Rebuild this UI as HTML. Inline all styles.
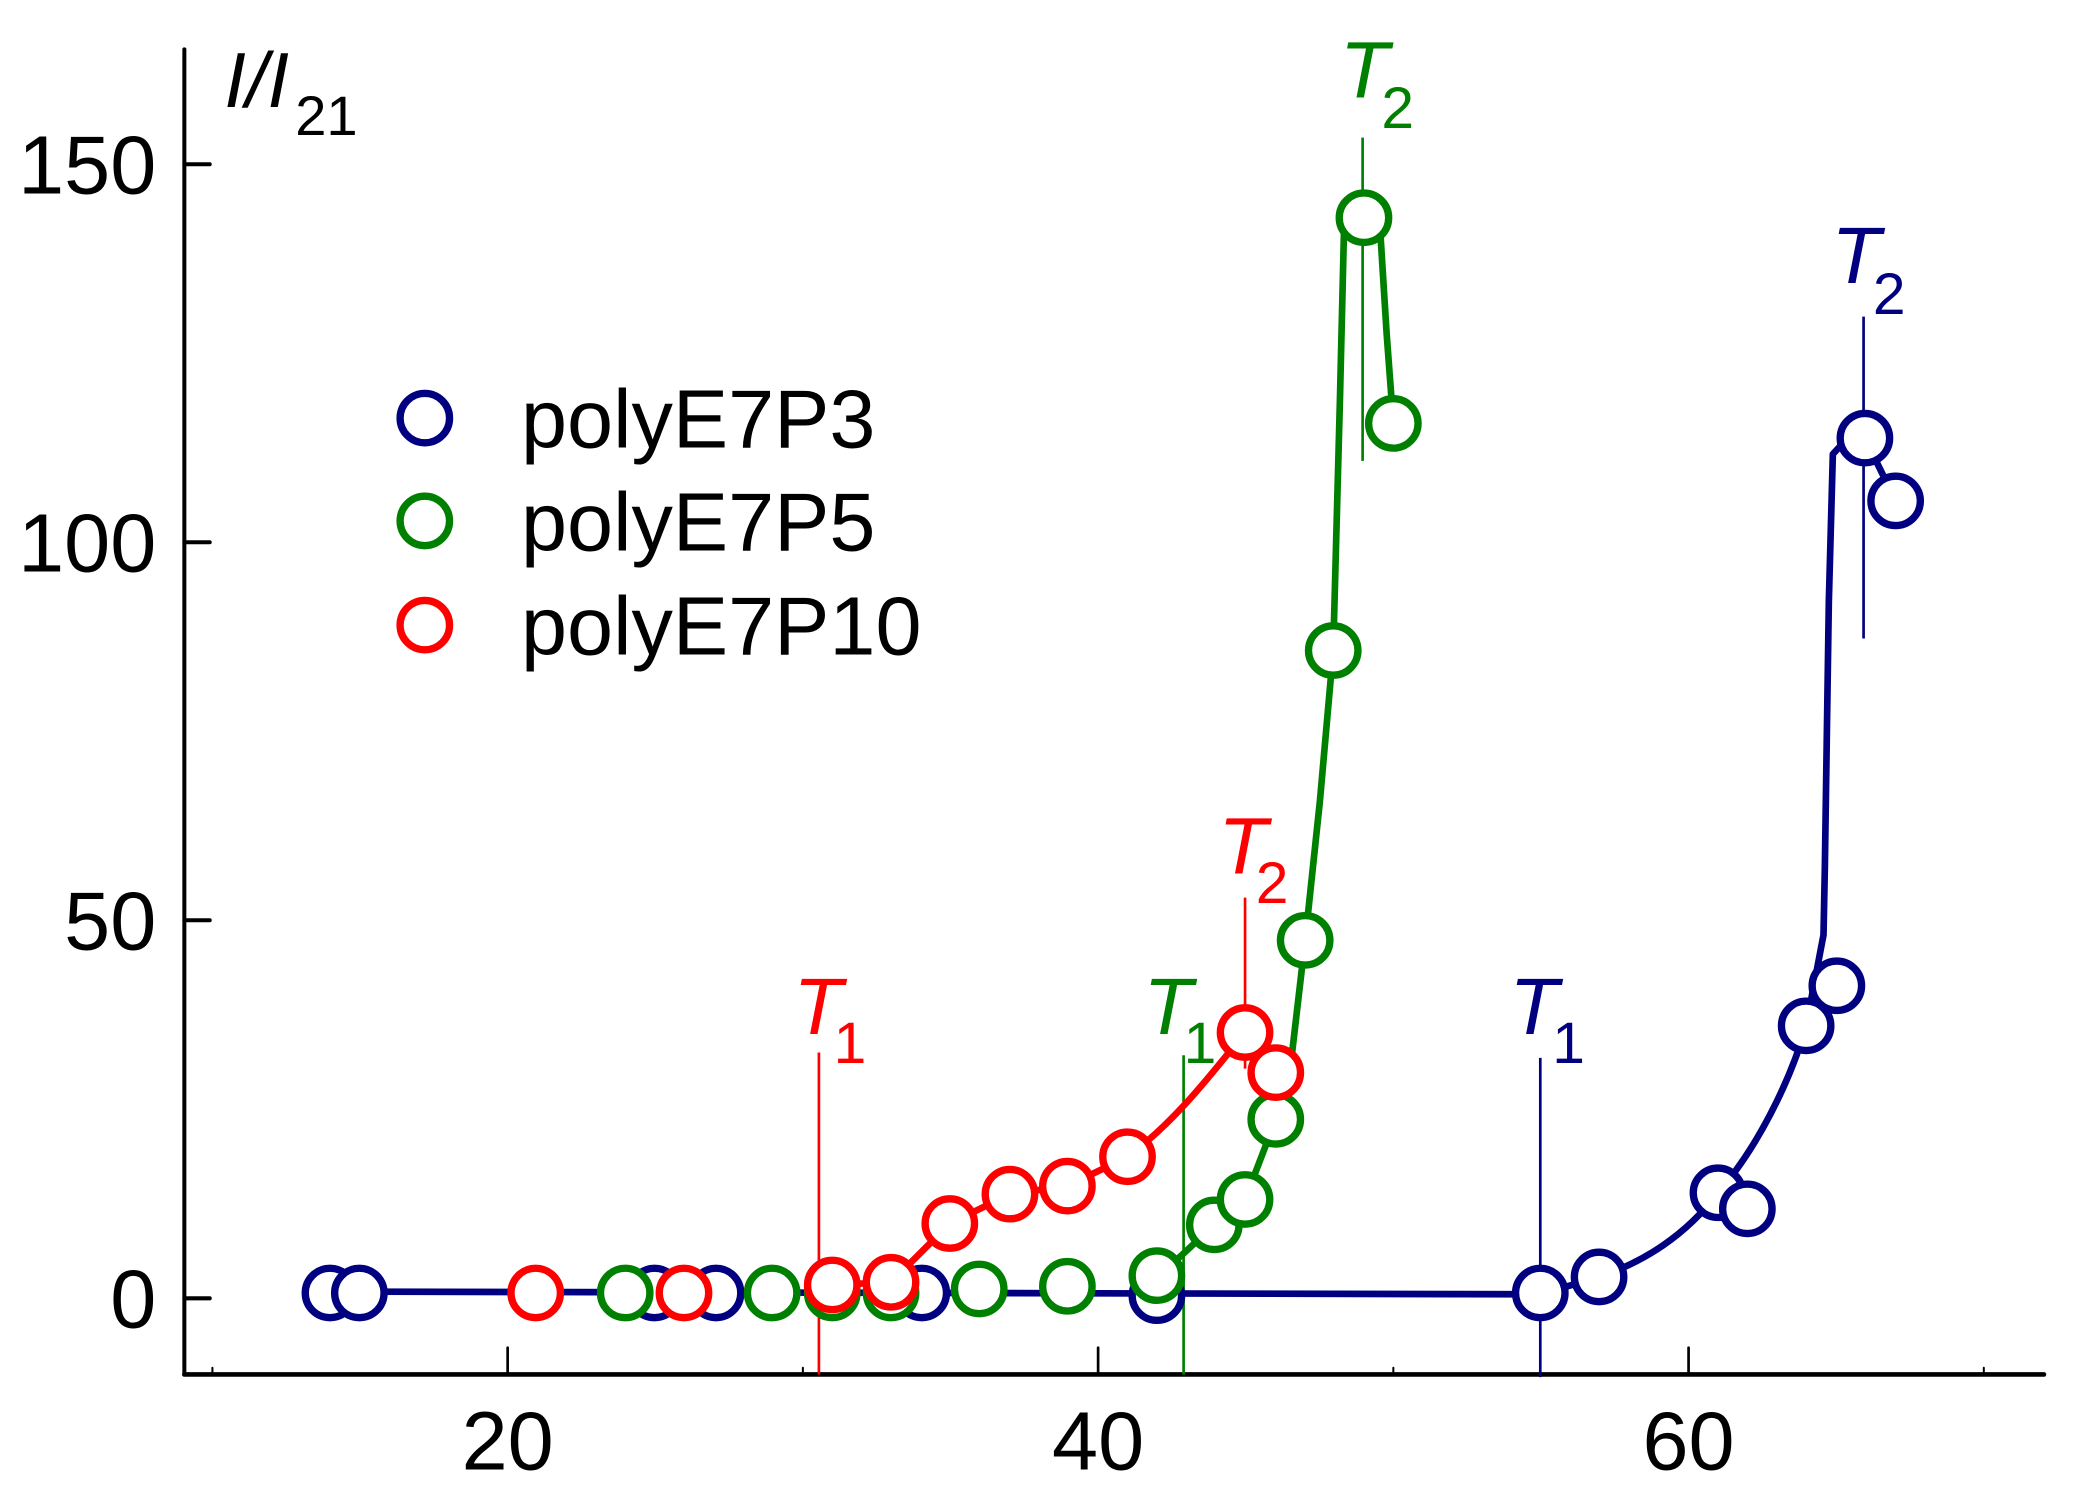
<!DOCTYPE html>
<html><head><meta charset="utf-8"><style>
html,body{margin:0;padding:0;background:#fff;}
svg{display:block;}
text{font-family:"Liberation Sans",Arial,sans-serif;}
</style></head><body>
<svg width="2084" height="1496" viewBox="0 0 1560 1120" preserveAspectRatio="none" xmlns="http://www.w3.org/2000/svg">
<rect width="1560" height="1120" fill="#fff"/>
<g stroke="#000" stroke-linecap="round">
<line x1="138" y1="37" x2="138" y2="1029" stroke-width="3"/>
<line x1="138" y1="1029" x2="1530" y2="1029" stroke-width="3.5"/>
<line x1="138" y1="123" x2="157" y2="123" stroke-width="3"/>
<line x1="138" y1="406" x2="157" y2="406" stroke-width="3"/>
<line x1="138" y1="689" x2="157" y2="689" stroke-width="3"/>
<line x1="138" y1="972" x2="157" y2="972" stroke-width="3"/>
<line x1="380" y1="1029" x2="380" y2="1009" stroke-width="2"/>
<line x1="822" y1="1029" x2="822" y2="1009" stroke-width="2"/>
<line x1="1264" y1="1029" x2="1264" y2="1009" stroke-width="2"/>
<line x1="601" y1="1029" x2="601" y2="1024" stroke-width="1.5"/>
<line x1="1043" y1="1029" x2="1043" y2="1024" stroke-width="1.5"/>
<line x1="1485" y1="1029" x2="1485" y2="1024" stroke-width="1.5"/>
<line x1="159" y1="1029" x2="159" y2="1024" stroke-width="1.5"/>
</g>
<g font-size="62" fill="#000">
<text x="117" y="145" text-anchor="end">150</text>
<text x="117" y="428" text-anchor="end">100</text>
<text x="117" y="711" text-anchor="end">50</text>
<text x="117" y="994" text-anchor="end">0</text>
<text x="380" y="1100" text-anchor="middle">20</text>
<text x="822" y="1100" text-anchor="middle">40</text>
<text x="1264" y="1100" text-anchor="middle">60</text>
</g>
<text x="168" y="80" font-size="58" font-style="italic">I/I</text>
<text x="221" y="101" font-size="42">21</text>
<g stroke-width="2">
<line x1="613" y1="788" x2="613" y2="1029" stroke="#f00"/>
<line x1="886" y1="790" x2="886" y2="1029" stroke="#008000"/>
<line x1="1153" y1="792" x2="1153" y2="1031" stroke="#000080"/>
<line x1="932" y1="672" x2="932" y2="800" stroke="#f00"/>
<line x1="1020" y1="103" x2="1020" y2="345" stroke="#008000"/>
<line x1="1395" y1="237" x2="1395" y2="478" stroke="#000080"/>
</g>
<g font-size="60">
<text x="594" y="774" fill="#f00" font-style="italic">T</text><text x="624" y="796" fill="#f00" font-size="44">1</text>
<text x="856" y="774" fill="#008000" font-style="italic">T</text><text x="886" y="796" fill="#008000" font-size="44">1</text>
<text x="1130" y="774" fill="#000080" font-style="italic">T</text><text x="1162" y="796" fill="#000080" font-size="44">1</text>
<text x="912" y="654" fill="#f00" font-style="italic">T</text><text x="940" y="676" fill="#f00" font-size="44">2</text>
<text x="1003" y="73" fill="#008000" font-style="italic">T</text><text x="1034" y="96" fill="#008000" font-size="44">2</text>
<text x="1371" y="212" fill="#000080" font-style="italic">T</text><text x="1402" y="235" fill="#000080" font-size="44">2</text>
</g>
<g fill="none" stroke-width="5" stroke-linejoin="round">
<path d="M269,967 L1153,969 L1197,956 C1230,945 1262,925 1286,893 C1315,860 1340,810 1352,768 L1365,700 L1366,650 L1369,450 L1372,340 L1383,328 L1396,328 L1419,375" stroke="#000080"/>
<path d="M866,957 L909,917 L932,898 L955,838 L967,790 L977,704 L988,600 L998,487 L1003,300 L1006,175 L1033,170 L1038,250 L1043,317" stroke="#008000"/>
<path d="M623,962 L667,960 L711,916 L756,894 L799,888 L844,866 C880,840 910,800 932,773 L955,803" stroke="#f00"/>
</g>
<g fill="#fff" stroke-width="5.5">
<g stroke="#000080">
<circle cx="247" cy="968" r="18.5"/><circle cx="269" cy="968" r="18.5"/>
<circle cx="490" cy="968" r="18.5"/><circle cx="536" cy="968" r="18.5"/>
<circle cx="690" cy="968" r="18.5"/><circle cx="866" cy="970" r="18.5"/>
<circle cx="1153" cy="968" r="18.5"/><circle cx="1197" cy="956" r="18.5"/>
<circle cx="1286" cy="893" r="18.5"/><circle cx="1308" cy="905" r="18.5"/>
<circle cx="1352" cy="768" r="18.5"/><circle cx="1375" cy="738" r="18.5"/>
<circle cx="1396" cy="328" r="18.5"/><circle cx="1419" cy="375" r="18.5"/>
</g>
<g stroke="#008000">
<circle cx="468" cy="968" r="18.5"/><circle cx="578" cy="968" r="18.5"/>
<circle cx="623" cy="968" r="18.5"/><circle cx="667" cy="968" r="18.5"/>
<circle cx="733" cy="965" r="18.5"/><circle cx="799" cy="963" r="18.5"/>
<circle cx="866" cy="955" r="18.5"/><circle cx="909" cy="917" r="18.5"/>
<circle cx="932" cy="898" r="18.5"/><circle cx="955" cy="838" r="18.5"/>
<circle cx="977" cy="704" r="18.5"/><circle cx="998" cy="487" r="18.5"/>
<circle cx="1021" cy="163" r="18.5"/><circle cx="1043" cy="317" r="18.5"/>
</g>
<g stroke="#f00">
<circle cx="401" cy="968" r="18.5"/><circle cx="512" cy="968" r="18.5"/>
<circle cx="623" cy="962" r="18.5"/><circle cx="667" cy="960" r="18.5"/>
<circle cx="711" cy="916" r="18.5"/><circle cx="756" cy="894" r="18.5"/>
<circle cx="799" cy="888" r="18.5"/><circle cx="844" cy="866" r="18.5"/>
<circle cx="932" cy="773" r="18.5"/><circle cx="955" cy="803" r="18.5"/>
</g>
<circle cx="318" cy="313" r="18.5" stroke="#000080"/>
<circle cx="318" cy="390" r="18.5" stroke="#008000"/>
<circle cx="318" cy="468" r="18.5" stroke="#f00"/>
</g>
<g font-size="62" fill="#000">
<text x="390" y="335">polyE7P3</text>
<text x="390" y="412">polyE7P5</text>
<text x="390" y="490">polyE7P10</text>
</g>
</svg>
</body></html>
